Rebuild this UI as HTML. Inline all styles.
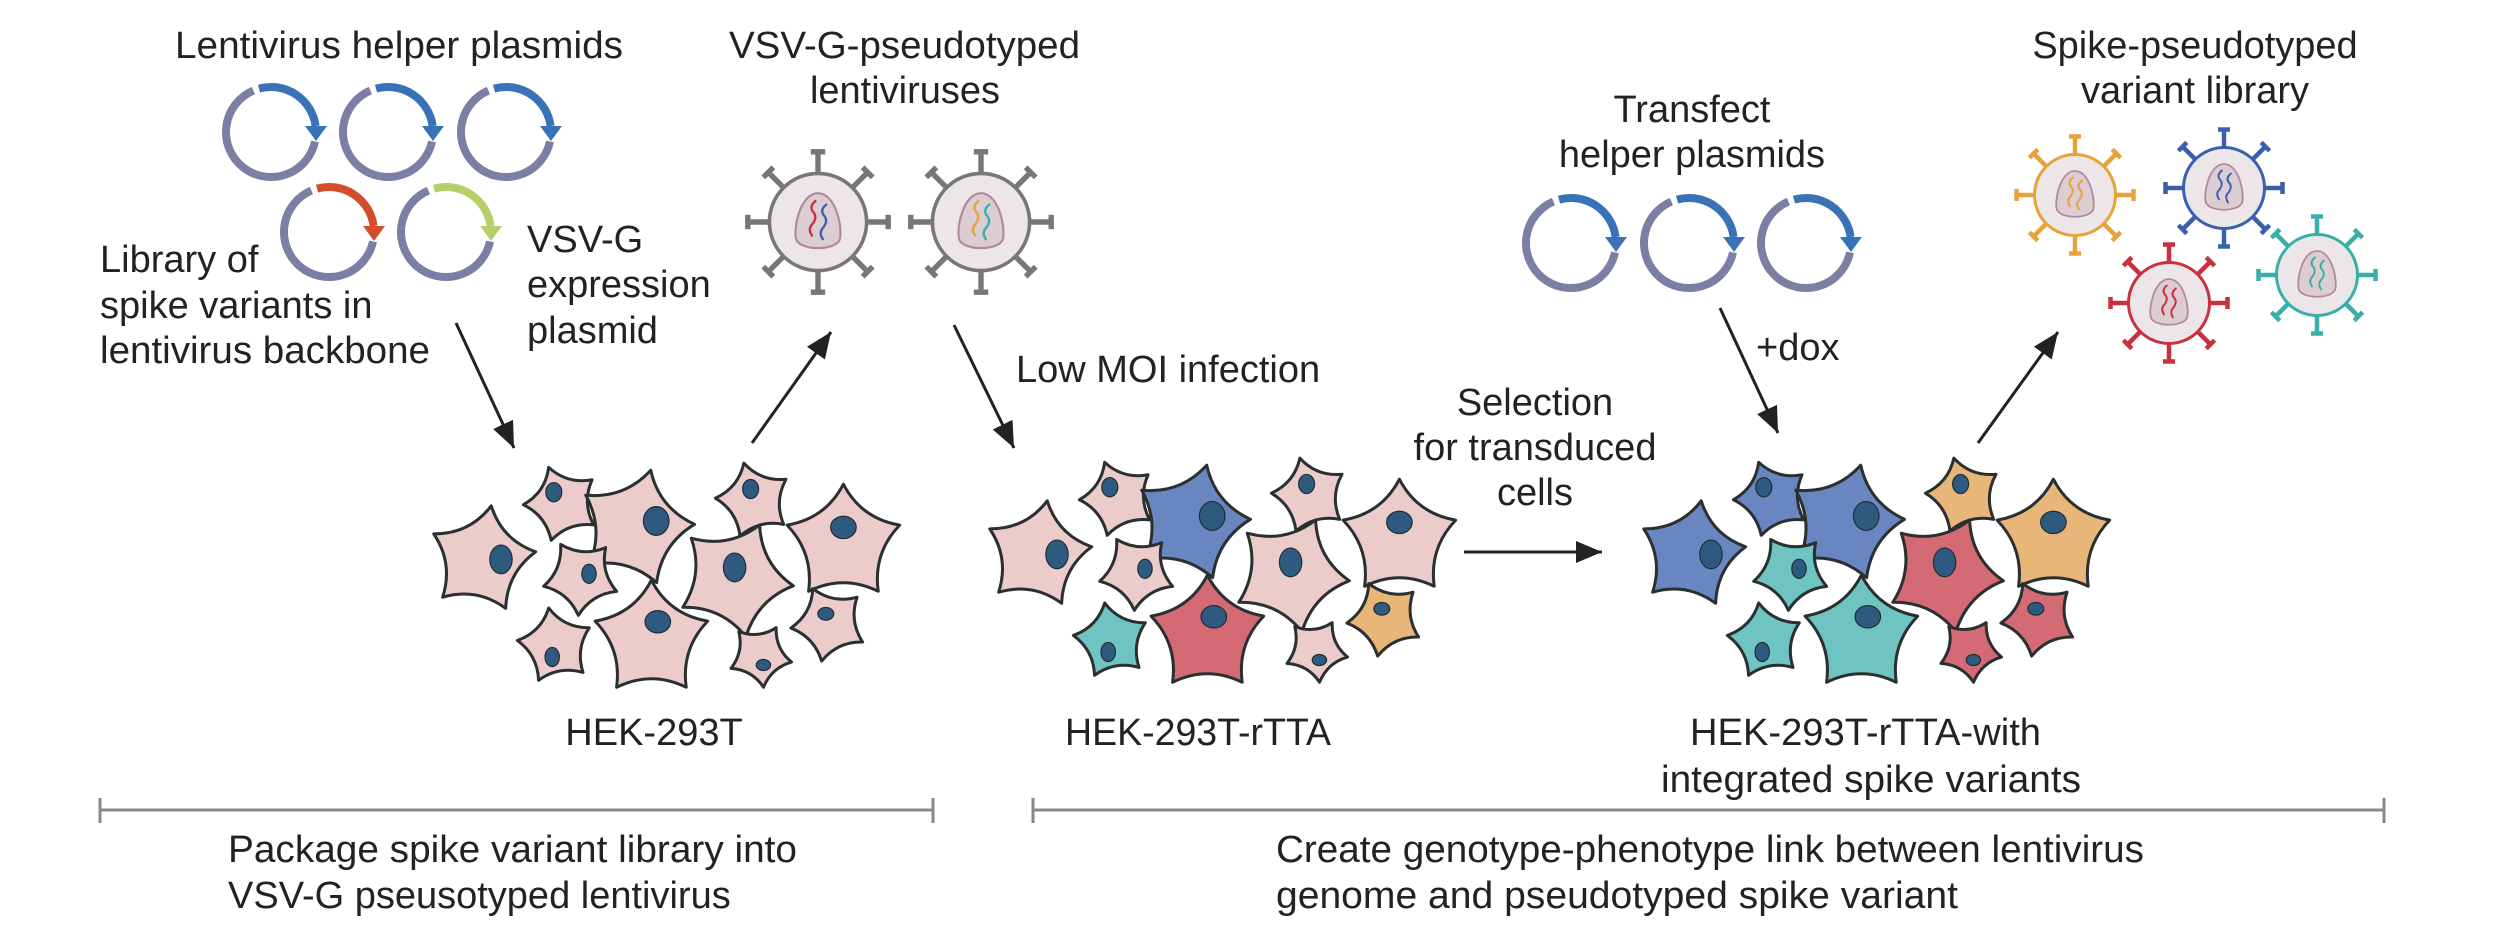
<!DOCTYPE html>
<html><head><meta charset="utf-8"><style>
html,body{margin:0;padding:0;background:#fff;}
svg{display:block;}
text{font-family:"Liberation Sans",sans-serif;font-size:38px;fill:#222;}
</style></head><body>
<svg width="2500" height="927" viewBox="0 0 2500 927" xmlns="http://www.w3.org/2000/svg">
<defs>
<marker id="ah" markerUnits="userSpaceOnUse" markerWidth="30" markerHeight="24" refX="26" refY="11" orient="auto">
<path d="M0,0 L26,11 L0,22 Z" fill="#222"/>
</marker>
<path id="cell" d="M0,-1 Q0.3,-0.42 0.951,-0.309 Q0.5,0.16 0.588,0.809 Q0,0.52 -0.588,0.809 Q-0.5,0.16 -0.951,-0.309 Q-0.3,-0.42 0,-1Z" stroke="#2a2f30" stroke-width="3" vector-effect="non-scaling-stroke" stroke-linejoin="round"/>
<g id="pl">
<path d="M44,9.4 A45,45 0 1 1 -17.6,-41.4" fill="none" stroke="#7a7fa3" stroke-width="8"/>
<path d="M-12,-43.4 A45,45 0 0 1 44.6,-6" fill="none" stroke="currentColor" stroke-width="8"/>
<polygon points="34,-6 56,-6 45,9" fill="currentColor"/>
</g>
<g id="vir" stroke="currentColor" fill="none">
<g stroke-width="3">
<line x1="27" y1="0" x2="39" y2="0"/><line x1="-27" y1="0" x2="-39" y2="0"/>
<line x1="0" y1="27" x2="0" y2="39"/><line x1="0" y1="-27" x2="0" y2="-39"/>
<line x1="19.1" y1="19.1" x2="27.6" y2="27.6"/><line x1="-19.1" y1="19.1" x2="-27.6" y2="27.6"/>
<line x1="19.1" y1="-19.1" x2="27.6" y2="-27.6"/><line x1="-19.1" y1="-19.1" x2="-27.6" y2="-27.6"/>
<line x1="39" y1="-4" x2="39" y2="4"/><line x1="-39" y1="-4" x2="-39" y2="4"/>
<line x1="-4" y1="39" x2="4" y2="39"/><line x1="-4" y1="-39" x2="4" y2="-39"/>
<line x1="24.8" y1="30.4" x2="30.4" y2="24.8"/><line x1="-24.8" y1="30.4" x2="-30.4" y2="24.8"/>
<line x1="24.8" y1="-30.4" x2="30.4" y2="-24.8"/><line x1="-24.8" y1="-30.4" x2="-30.4" y2="-24.8"/>
</g>
<circle r="27" fill="#ede6e9" stroke-width="2"/>
<path d="M0,-16 C10,-16 14,4 12,10 C9,16 -9,16 -12,10 C-14,4 -10,-16 0,-16Z" fill="#dccdd3" stroke="#b08a9c" stroke-width="1.2"/>
</g>
<path id="sq" d="M0,8 q-3,-4 0,-7 q3,-4 0,-7 q-2,-3 2,-6" fill="none" stroke-width="1.3"/>
<g id="nuc" fill="#2d5a7e" stroke="#1e2a30" stroke-width="0.7">
<ellipse cx="-120" cy="-11" rx="7" ry="9"/>
<ellipse cx="-87" cy="-53" rx="5" ry="6"/>
<ellipse cx="-23" cy="-35" rx="8" ry="9"/>
<ellipse cx="-65" cy="-2" rx="4.5" ry="6"/>
<ellipse cx="36" cy="-55" rx="5" ry="6"/>
<ellipse cx="94" cy="-31" rx="8" ry="7"/>
<ellipse cx="26" cy="-6" rx="7" ry="9"/>
<ellipse cx="-88" cy="50" rx="4.5" ry="6"/>
<ellipse cx="-22" cy="28" rx="8" ry="7"/>
<ellipse cx="44" cy="55" rx="4.5" ry="3.5"/>
<ellipse cx="83" cy="23" rx="5" ry="4"/>
</g>
</defs>

<use href="#pl" x="271" y="132" style="color:#3a72b8"/>
<use href="#pl" x="388" y="132" style="color:#3a72b8"/>
<use href="#pl" x="506" y="132" style="color:#3a72b8"/>
<use href="#pl" x="329" y="232" style="color:#d24e2a"/>
<use href="#pl" x="446" y="232" style="color:#b5cf6a"/>
<use href="#pl" x="1571" y="243" style="color:#3a72b8"/>
<use href="#pl" x="1689" y="243" style="color:#3a72b8"/>
<use href="#pl" x="1806" y="243" style="color:#3a72b8"/>

<g transform="translate(818,222) scale(1.8)">
<use href="#vir" style="color:#777"/>
<use href="#sq" x="-3" y="0" stroke="#c8313d"/>
<use href="#sq" x="3" y="2" stroke="#3a5fae"/>
</g>
<g transform="translate(981,222) scale(1.8)">
<use href="#vir" style="color:#777"/>
<use href="#sq" x="-3" y="0" stroke="#e8a23c"/>
<use href="#sq" x="3" y="2" stroke="#3aaea8"/>
</g>

<g transform="translate(2075,195) scale(1.5)"><use href="#vir" style="color:#e8a23c"/><use href="#sq" x="-3" y="0" stroke="#e8a23c"/><use href="#sq" x="3" y="2" stroke="#e8a23c"/></g>
<g transform="translate(2224,188) scale(1.5)"><use href="#vir" style="color:#3a5fae"/><use href="#sq" x="-3" y="0" stroke="#3a5fae"/><use href="#sq" x="3" y="2" stroke="#3a5fae"/></g>
<g transform="translate(2169,303) scale(1.5)"><use href="#vir" style="color:#c8313d"/><use href="#sq" x="-3" y="0" stroke="#c8313d"/><use href="#sq" x="3" y="2" stroke="#c8313d"/></g>
<g transform="translate(2317,275) scale(1.5)"><use href="#vir" style="color:#3aaea8"/><use href="#sq" x="-3" y="0" stroke="#3aaea8"/><use href="#sq" x="3" y="2" stroke="#3aaea8"/></g>

<g transform="translate(693,577) scale(1.6)">
<g fill="#eccbcb">
<use href="#cell" transform="translate(-132,-11) rotate(10) scale(34)"/>
<use href="#cell" transform="translate(-82,-46) rotate(-20) scale(24)"/>
<use href="#cell" transform="translate(-36,-31) rotate(15) scale(37)"/>
<use href="#cell" transform="translate(-70,0) rotate(40) scale(24)"/>
<use href="#cell" transform="translate(38,-48) rotate(-15) scale(24)"/>
<use href="#cell" transform="translate(94,-21) rotate(0) scale(37)"/>
<use href="#cell" transform="translate(26,1) rotate(25) scale(37)"/>
<use href="#cell" transform="translate(-86,43) rotate(-10) scale(24)"/>
<use href="#cell" transform="translate(-26,39) rotate(0) scale(37)"/>
<use href="#cell" transform="translate(42,49) rotate(30) scale(20)"/>
<use href="#cell" transform="translate(85,29) rotate(-25) scale(24)"/>
</g>
<use href="#nuc"/>
</g>
<g transform="translate(1249,572) scale(1.6)">
<g fill="#eccbcb"><use href="#cell" transform="translate(-132,-11) rotate(10) scale(34)"/>
<use href="#cell" transform="translate(-82,-46) rotate(-20) scale(24)"/>
<use href="#cell" transform="translate(-36,-31) rotate(15) scale(37)" fill="#6a86c0"/>
<use href="#cell" transform="translate(-70,0) rotate(40) scale(24)"/>
<use href="#cell" transform="translate(38,-48) rotate(-15) scale(24)"/>
<use href="#cell" transform="translate(94,-21) rotate(0) scale(37)"/>
<use href="#cell" transform="translate(26,1) rotate(25) scale(37)"/>
<use href="#cell" transform="translate(-86,43) rotate(-10) scale(24)" fill="#6fc3c0"/>
<use href="#cell" transform="translate(-26,39) rotate(0) scale(37)" fill="#d46a74"/>
<use href="#cell" transform="translate(42,49) rotate(30) scale(20)"/>
<use href="#cell" transform="translate(85,29) rotate(-25) scale(24)" fill="#e8b679"/></g>
<use href="#nuc"/>
</g>
<g transform="translate(1903,572) scale(1.6)">
<g><use href="#cell" transform="translate(-132,-11) rotate(10) scale(34)" fill="#6a86c0"/>
<use href="#cell" transform="translate(-82,-46) rotate(-20) scale(24)" fill="#6a86c0"/>
<use href="#cell" transform="translate(-36,-31) rotate(15) scale(37)" fill="#6a86c0"/>
<use href="#cell" transform="translate(-70,0) rotate(40) scale(24)" fill="#6fc3c0"/>
<use href="#cell" transform="translate(38,-48) rotate(-15) scale(24)" fill="#e8b679"/>
<use href="#cell" transform="translate(94,-21) rotate(0) scale(37)" fill="#e8b679"/>
<use href="#cell" transform="translate(26,1) rotate(25) scale(37)" fill="#d46a74"/>
<use href="#cell" transform="translate(-86,43) rotate(-10) scale(24)" fill="#6fc3c0"/>
<use href="#cell" transform="translate(-26,39) rotate(0) scale(37)" fill="#6fc3c0"/>
<use href="#cell" transform="translate(42,49) rotate(30) scale(20)" fill="#d46a74"/>
<use href="#cell" transform="translate(85,29) rotate(-25) scale(24)" fill="#d46a74"/></g>
<use href="#nuc"/>
</g>

<g stroke="#222" stroke-width="3" marker-end="url(#ah)">
<line x1="456" y1="323" x2="514" y2="448"/>
<line x1="752" y1="443" x2="831" y2="332"/>
<line x1="954" y1="325" x2="1014" y2="448"/>
<line x1="1464" y1="552" x2="1602" y2="552"/>
<line x1="1720" y1="308" x2="1778" y2="433"/>
<line x1="1978" y1="443" x2="2058" y2="332"/>
</g>

<g stroke="#888" stroke-width="3">
<line x1="100" y1="810" x2="933" y2="810"/><line x1="100" y1="798" x2="100" y2="823"/><line x1="933" y1="798" x2="933" y2="823"/>
<line x1="1033" y1="810" x2="2384" y2="810"/><line x1="1033" y1="798" x2="1033" y2="823"/><line x1="2384" y1="798" x2="2384" y2="823"/>
</g>

<text x="175" y="58" textLength="448" lengthAdjust="spacingAndGlyphs">Lentivirus helper plasmids</text>
<text x="100" y="272">Library of</text>
<text x="100" y="318">spike variants in</text>
<text x="100" y="363" textLength="330" lengthAdjust="spacingAndGlyphs">lentivirus backbone</text>
<text x="527" y="252">VSV-G</text>
<text x="527" y="297">expression</text>
<text x="527" y="343">plasmid</text>
<text x="729" y="58" textLength="351" lengthAdjust="spacingAndGlyphs">VSV-G-pseudotyped</text>
<text x="905" y="103" text-anchor="middle">lentiviruses</text>
<text x="1016" y="382">Low MOI infection</text>
<text x="1535" y="415" text-anchor="middle">Selection</text>
<text x="1535" y="460" text-anchor="middle">for transduced</text>
<text x="1535" y="505" text-anchor="middle">cells</text>
<text x="1692" y="122" text-anchor="middle">Transfect</text>
<text x="1692" y="167" text-anchor="middle">helper plasmids</text>
<text x="1756" y="360">+dox</text>
<text x="2195" y="58" text-anchor="middle">Spike-pseudotyped</text>
<text x="2195" y="103" text-anchor="middle">variant library</text>
<text x="654" y="745" text-anchor="middle">HEK-293T</text>
<text x="1065" y="745" textLength="266" lengthAdjust="spacingAndGlyphs">HEK-293T-rTTA</text>
<text x="1690" y="745" textLength="351" lengthAdjust="spacingAndGlyphs">HEK-293T-rTTA-with</text>
<text x="1661" y="792" textLength="420" lengthAdjust="spacingAndGlyphs">integrated spike variants</text>
<text x="228" y="862" textLength="569" lengthAdjust="spacingAndGlyphs">Package spike variant library into</text>
<text x="228" y="908">VSV-G pseusotyped lentivirus</text>
<text x="1276" y="862" textLength="868" lengthAdjust="spacingAndGlyphs">Create genotype-phenotype link between lentivirus</text>
<text x="1276" y="908" textLength="682" lengthAdjust="spacingAndGlyphs">genome and pseudotyped spike variant</text>
</svg>
</body></html>
